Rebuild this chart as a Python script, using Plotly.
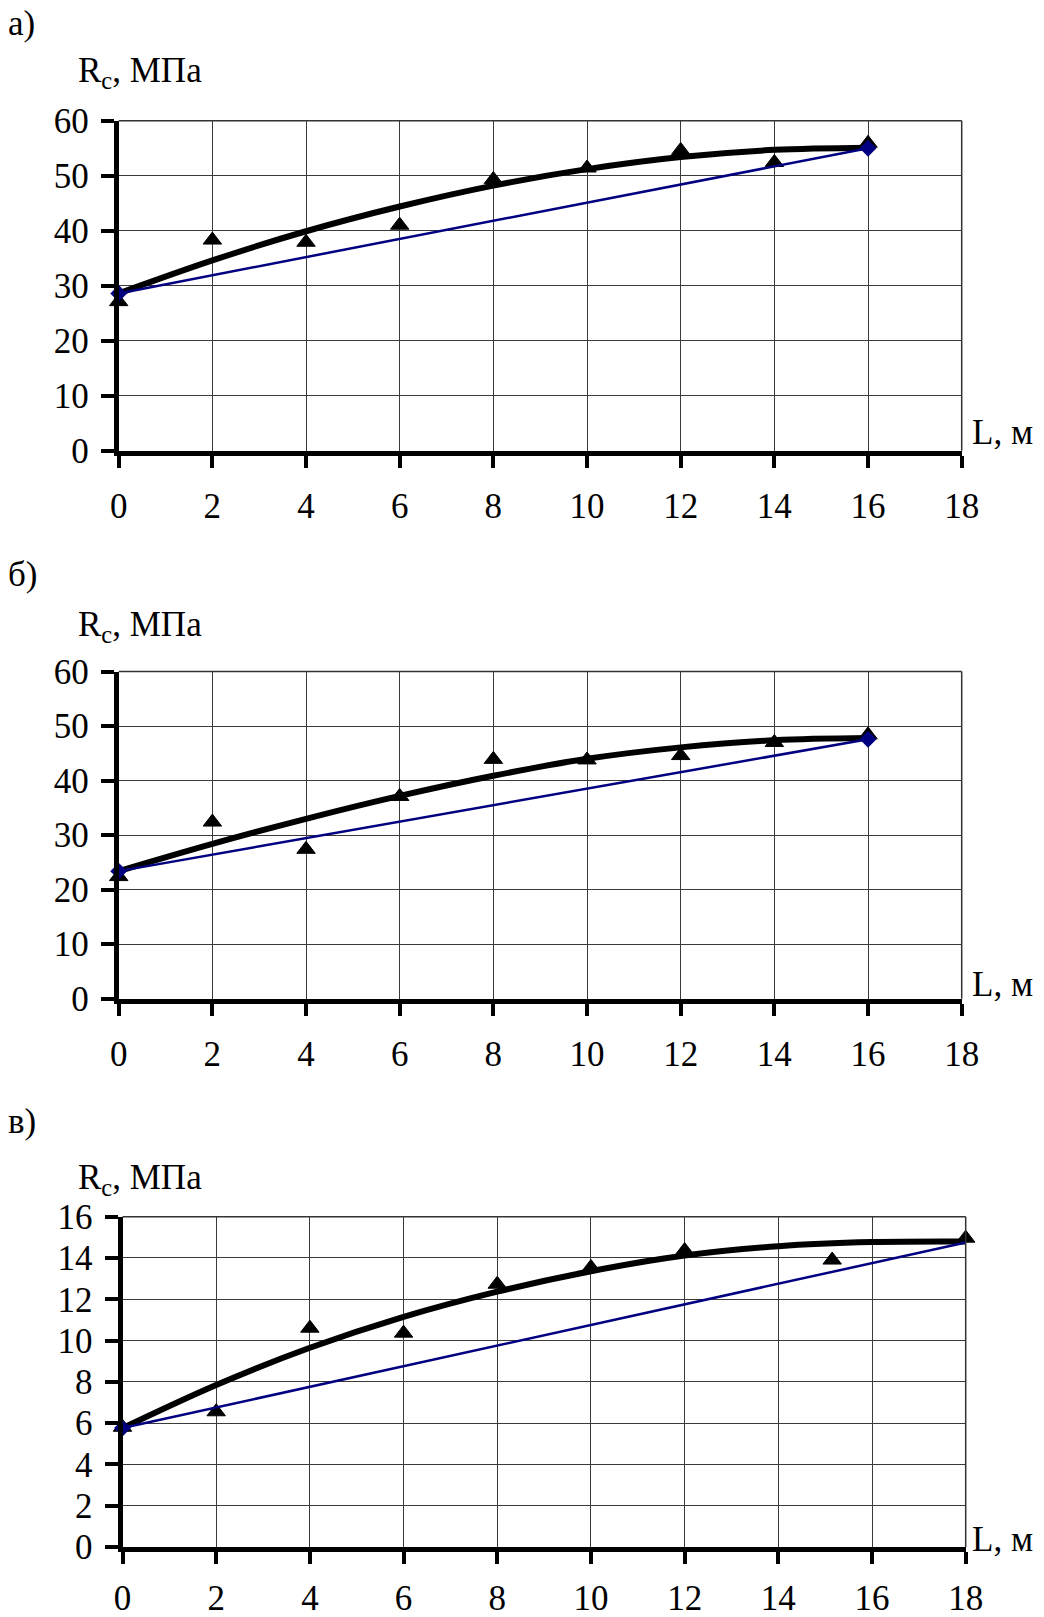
import plotly.graph_objects as go

# ---- data -------------------------------------------------------------
# Panel а)
L_a = [0, 2, 4, 6, 8, 10, 12, 14, 16]
R_a_meas = [27.1, 38.3, 37.9, 41.0, 49.3, 51.4, 54.6, 52.4, 55.9]
R_a_trend = [28.6, 34.6, 39.9, 44.4, 48.2, 51.2, 53.4, 54.7, 55.1]
L_a_line = [0, 16]
R_a_line = [28.6, 55.0]

# Panel б)
L_b = [0, 2, 4, 6, 8, 10, 12, 14, 16]
R_b_meas = [22.4, 32.4, 27.4, 37.1, 43.9, 43.8, 44.6, 47.0, 48.4]
R_b_trend = [23.4, 28.4, 33.0, 37.2, 40.9, 44.0, 46.1, 47.4, 47.8]
L_b_line = [0, 16]
R_b_line = [23.4, 47.6]

# Panel в)
L_c_meas = [0, 2, 4, 6, 8, 10, 12, 15.15, 18]
R_c_meas = [5.8, 6.55, 10.6, 10.36, 12.73, 13.54, 14.36, 13.9, 14.96]
L_c_trend = [0, 2, 4, 6, 8, 10, 12, 14, 16, 18]
R_c_trend = [5.76, 7.85, 9.65, 11.15, 12.37, 13.36, 14.12, 14.57, 14.77, 14.8]
L_c_line = [0, 18]
R_c_line = [5.76, 14.75]

panel_labels = ["а)", "б)", "в)"]
y_title = "R<sub>c</sub>, МПа"
x_title = "L, м"
y_ranges = [(0, 60, 10), (0, 60, 10), (0, 16, 2)]
x_range = (0, 18, 2)

# ---- page geometry (pixels) -------------------------------------------
W, H = 1044, 1617
FONT = "Liberation Serif, Times New Roman, serif"
FS = 35

def fx(p):
    return p / W

def fy(p):
    return 1 - p / H

# plot boxes: (left, right, top, bottom)
boxes = [
    (118.7, 961.7, 120.7, 450.7),
    (118.7, 961.7, 671.6, 998.7),
    (122.5, 965.7, 1216.7, 1547.0),
]
label_y = [23, 574, 1121]
ytitle_y = [72, 626, 1179]
xtitle_y = [432, 985, 1539]
xlabel_standoff = [8, 8, 4]
# visibility of the end-point diamonds of the straight line in each panel
diamond_opacity = [[1, 1], [1, 1], [1, 0]]

NAVY = "#000080"
GRID = "#3a3a3a"

fig = go.Figure()

series = [
    (L_a, R_a_meas, L_a, R_a_trend, L_a_line, R_a_line),
    (L_b, R_b_meas, L_b, R_b_trend, L_b_line, R_b_line),
    (L_c_meas, R_c_meas, L_c_trend, R_c_trend, L_c_line, R_c_line),
]

for i, (xm, ym, xt, yt, xl, yl) in enumerate(series):
    sfx = "" if i == 0 else str(i + 1)
    xa, ya = "x" + sfx, "y" + sfx
    # measured points
    fig.add_trace(go.Scatter(
        x=xm, y=ym, mode="markers", xaxis=xa, yaxis=ya,
        marker=dict(symbol="triangle-up", size=16, color="black",
                    line=dict(color="black", width=1)),
        cliponaxis=False, showlegend=False))
    # smooth trend curve
    fig.add_trace(go.Scatter(
        x=xt, y=yt, mode="lines", xaxis=xa, yaxis=ya,
        line=dict(color="black", width=6, shape="spline", smoothing=1.0),
        cliponaxis=False, showlegend=False))
    # straight line between end points
    fig.add_trace(go.Scatter(
        x=xl, y=yl, mode="lines+markers", xaxis=xa, yaxis=ya,
        line=dict(color=NAVY, width=2.5),
        marker=dict(symbol="diamond", size=13, color=NAVY,
                    opacity=diamond_opacity[i]),
        cliponaxis=False, showlegend=False))

layout = dict(
    width=W, height=H, autosize=False,
    margin=dict(l=0, r=0, t=0, b=0, pad=0, autoexpand=False),
    paper_bgcolor="white", plot_bgcolor="white",
    font=dict(family=FONT, size=FS, color="black"),
    showlegend=False,
    shapes=[], annotations=[],
)

for i, (l, r, t, b) in enumerate(boxes):
    sfx = "" if i == 0 else str(i + 1)
    y0, y1, dy = y_ranges[i]
    layout["xaxis" + sfx] = dict(
        domain=[fx(l), fx(r)], anchor="y" + sfx, automargin=False,
        range=[x_range[0], x_range[1]], tick0=0, dtick=x_range[2],
        showgrid=True, gridcolor=GRID, gridwidth=1,
        zeroline=False, showline=True, linecolor="black", linewidth=5,
        ticks="outside", ticklen=12, tickwidth=4, tickcolor="black",
        ticklabelstandoff=xlabel_standoff[i],
        tickfont=dict(family=FONT, size=FS, color="black"),
        fixedrange=True,
    )
    layout["yaxis" + sfx] = dict(
        domain=[fy(b), fy(t)], anchor="x" + sfx, automargin=False,
        range=[y0, y1], tick0=0, dtick=dy,
        showgrid=True, gridcolor=GRID, gridwidth=1,
        zeroline=False, showline=True, linecolor="black", linewidth=5,
        ticks="outside", ticklen=13, tickwidth=4, tickcolor="black",
        ticklabelstandoff=5,
        tickfont=dict(family=FONT, size=FS, color="black"),
        fixedrange=True,
    )
    # thin frame on top and right
    layout["shapes"].append(dict(
        type="line", xref="x" + sfx + " domain", yref="y" + sfx + " domain",
        x0=0, x1=1, y0=1, y1=1, line=dict(color="#333333", width=1.5)))
    layout["shapes"].append(dict(
        type="line", xref="x" + sfx + " domain", yref="y" + sfx + " domain",
        x0=1, x1=1, y0=0, y1=1, line=dict(color="#333333", width=1.5)))

    layout["annotations"] += [
        dict(text=panel_labels[i], xref="paper", yref="paper",
             x=fx(6), y=fy(label_y[i]), xanchor="left", yanchor="middle",
             showarrow=False, font=dict(family=FONT, size=FS)),
        dict(text=y_title, xref="paper", yref="paper",
             x=fx(76), y=fy(ytitle_y[i]), xanchor="left", yanchor="middle",
             showarrow=False, font=dict(family=FONT, size=FS)),
        dict(text=x_title, xref="paper", yref="paper",
             x=fx(970), y=fy(xtitle_y[i]), xanchor="left", yanchor="middle",
             showarrow=False, font=dict(family=FONT, size=FS)),
    ]

fig.update_layout(**layout)
fig.write_html("out.html")
